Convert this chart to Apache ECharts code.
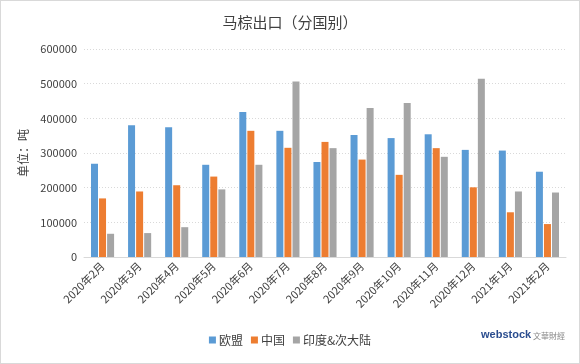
<!DOCTYPE html>
<html><head><meta charset="utf-8">
<script src="https://cdn.jsdelivr.net/npm/echarts@6/dist/echarts.min.js"></script>
<style>html,body{margin:0;padding:0;background:#fff}#c{width:580px;height:364px;box-sizing:border-box;border:1px solid #d9d9d9}</style>
</head><body><div id="c"></div>
<script>
const categories = ['2020年2月','2020年3月','2020年4月','2020年5月','2020年6月','2020年7月','2020年8月','2020年9月','2020年10月','2020年11月','2020年12月','2021年1月','2021年2月'];
const seriesNames = ['欧盟','中国','印度&次大陆'];
const eu    = [269000,380000,374000,266000,418000,364000,274000,352000,343000,354000,309000,307000,246000];
const china = [169000,189000,207000,232000,364000,315000,332000,281000,237000,314000,201000,129000,95000];
const india = [67000,69000,86000,195000,266000,506000,314000,430000,444000,289000,514000,189000,186000];
const yTicks = [0,100000,200000,300000,400000,500000,600000];

const FONT = '"Noto Sans CJK SC", "Liberation Sans", sans-serif';
const colors = ['#5B9BD5','#ED7D31','#A5A5A5'];
const chart = echarts.init(document.getElementById('c'));
chart.setOption({
  animation:false,
  color: colors,
  textStyle:{fontFamily:FONT},
  title:{text:'马棕出口（分国别）',left:'center',top:9,textStyle:{fontSize:15,fontWeight:'normal',color:'#404040',fontFamily:FONT}},
  grid:{left:83,right:13,top:48,bottom:106},
  legend:{bottom:12,left:'center',itemWidth:7,itemHeight:7,itemGap:8,icon:'rect',
    textStyle:{fontSize:12,color:'#404040',fontFamily:FONT,padding:[0,0,0,-2]},data:seriesNames},
  xAxis:{type:'category',data:categories,
    axisLine:{lineStyle:{color:'#d9d9d9'}},axisTick:{show:false},
    axisLabel:{rotate:45,fontSize:11,color:'#404040',margin:7,interval:0,fontFamily:FONT}},
  yAxis:{type:'value',min:yTicks[0],max:yTicks[yTicks.length-1],interval:100000,
    name:'单位：吨',nameLocation:'middle',nameGap:52,nameRotate:90,
    nameTextStyle:{fontSize:12,color:'#404040',fontFamily:FONT},
    axisLine:{show:false},axisTick:{show:false},
    axisLabel:{fontSize:11,color:'#404040',margin:7,fontFamily:FONT,formatter:v=>String(v)},
    splitLine:{lineStyle:{color:'#d9d9d9',type:[1,2]}}},
  series:[
    {name:seriesNames[0],type:'bar',data:eu,barWidth:7,barGap:'15%'},
    {name:seriesNames[1],type:'bar',data:china,barWidth:7,barGap:'15%'},
    {name:seriesNames[2],type:'bar',data:india,barWidth:7,barGap:'15%'}
  ],
  graphic:[
    {type:'text',left:480,top:328,style:{text:'webstock',fontSize:11,fontWeight:'bold',fill:'#2a4d8f',fontFamily:'"Liberation Sans", sans-serif'}},
    {type:'text',left:532,top:331,style:{text:'文華財經',fontSize:8,fill:'#888',fontFamily:'"Noto Sans CJK TC", sans-serif'}}
  ]
});
</script></body></html>
